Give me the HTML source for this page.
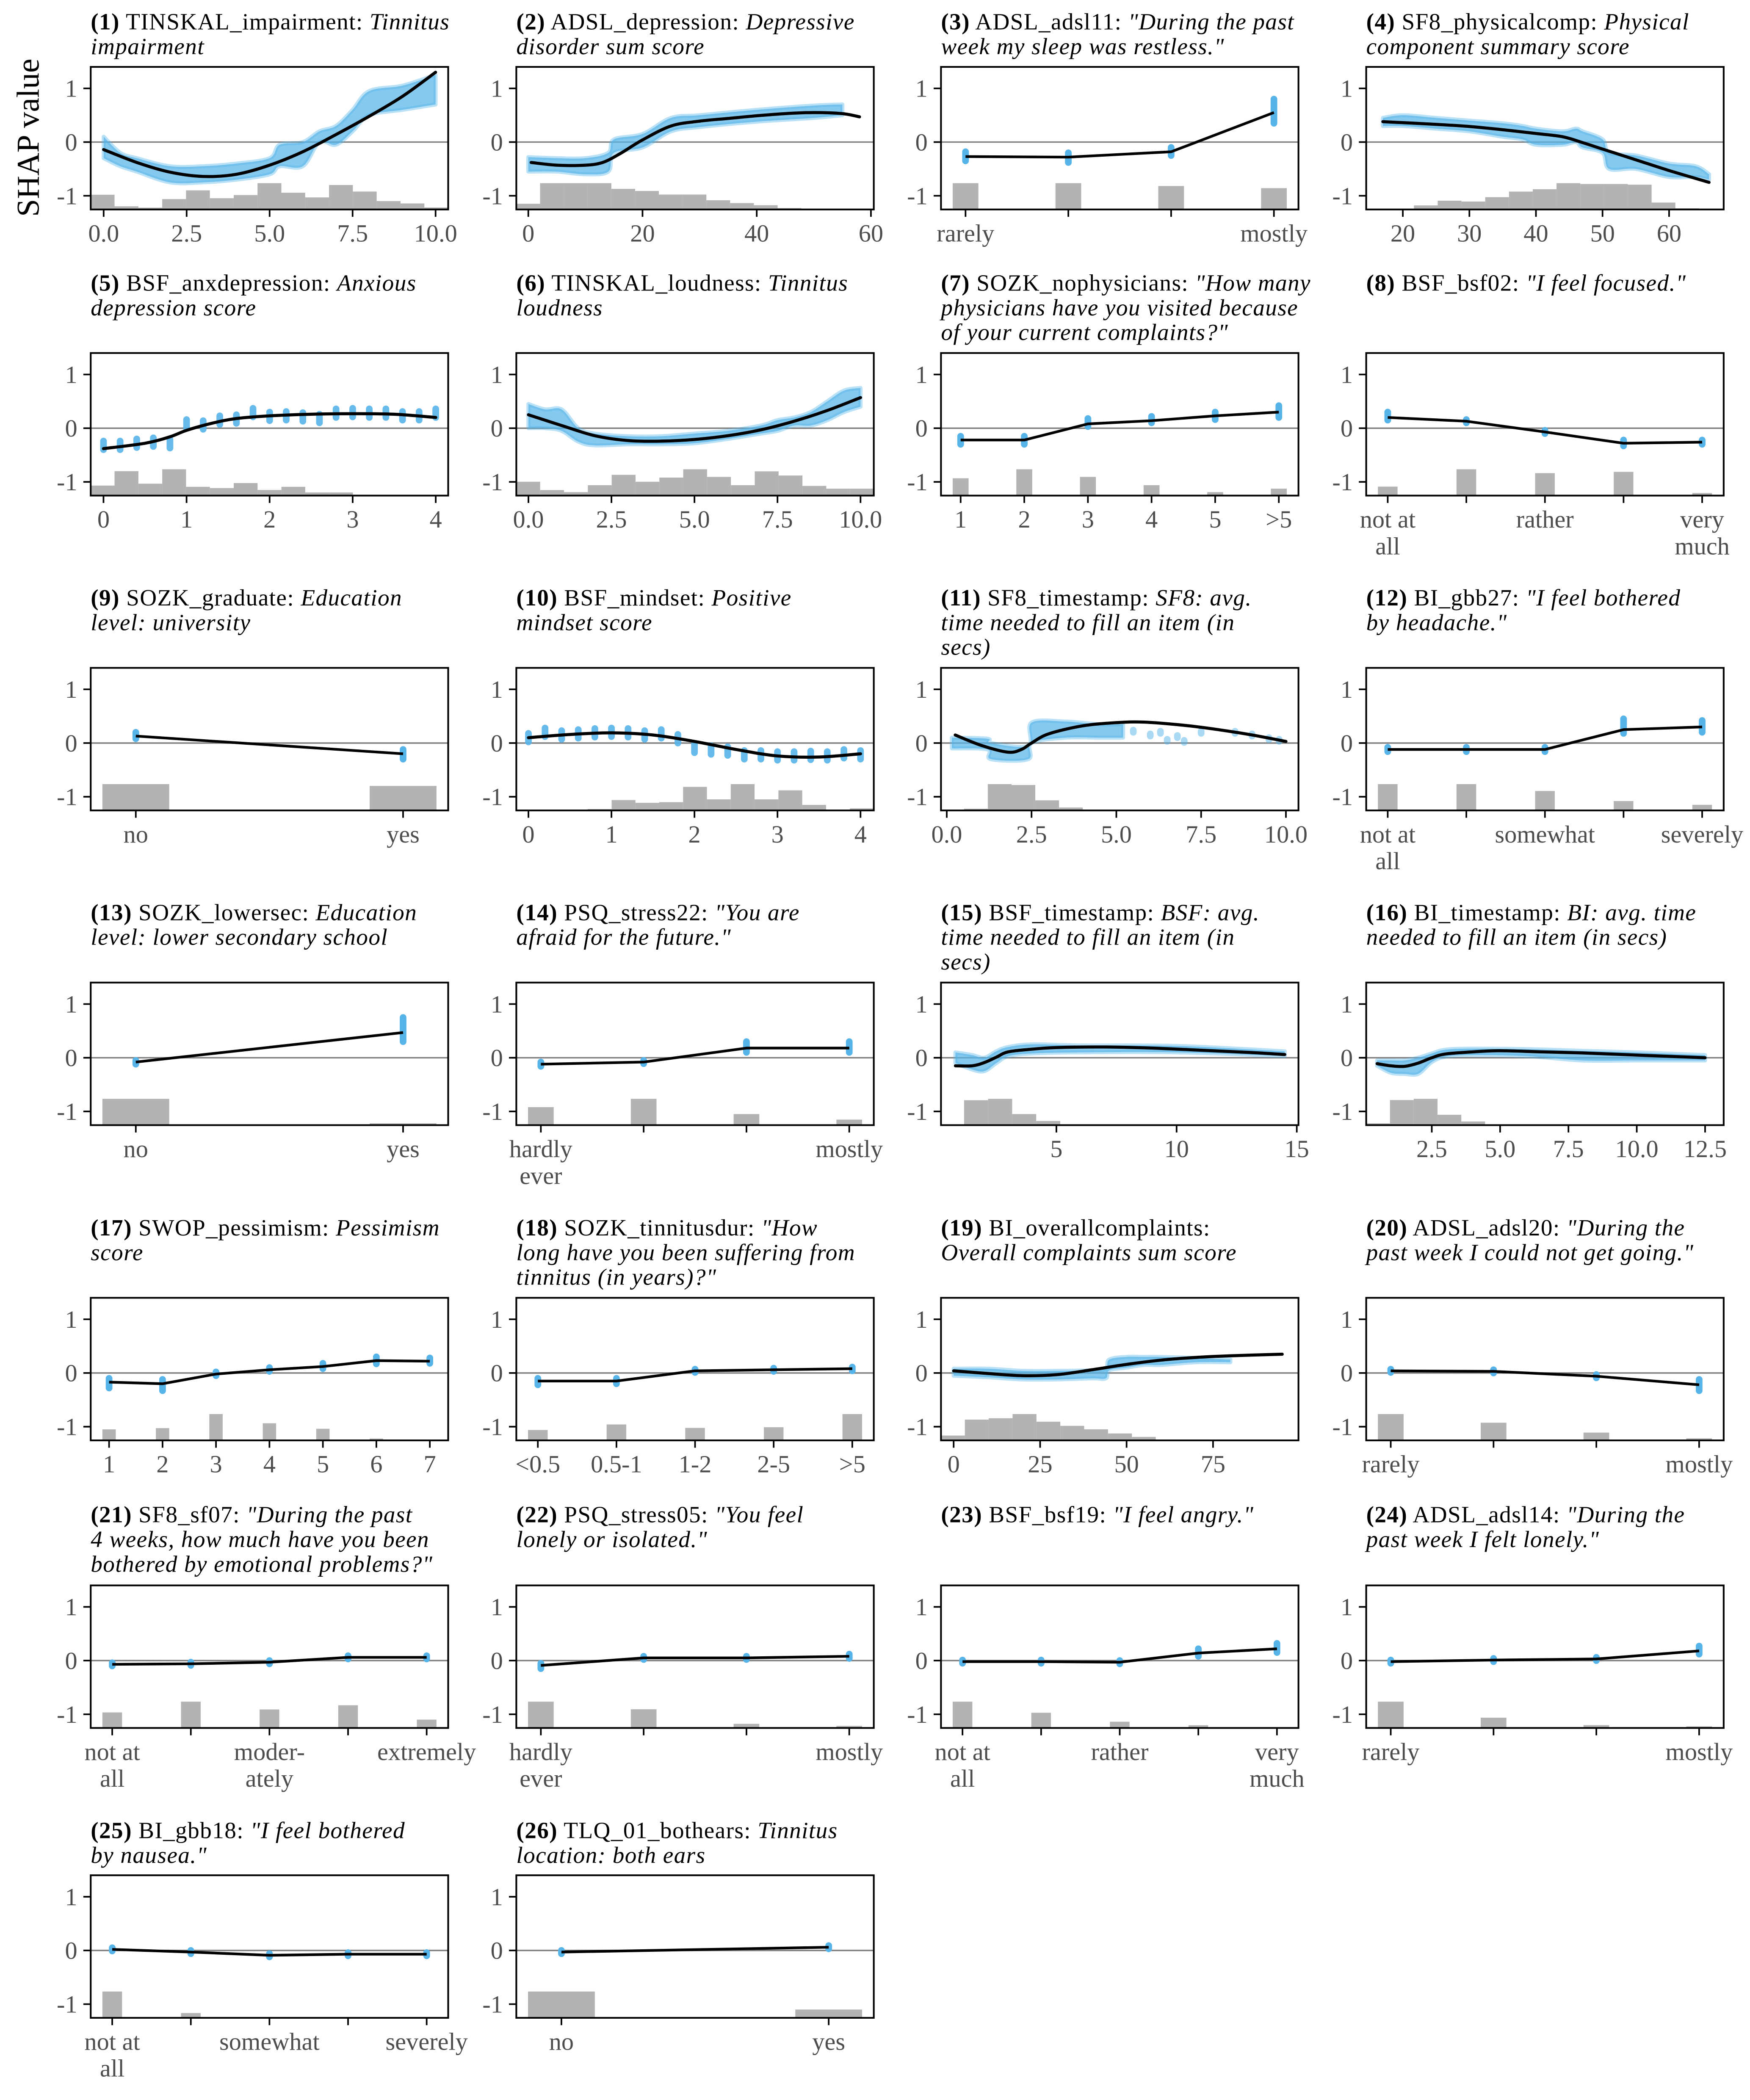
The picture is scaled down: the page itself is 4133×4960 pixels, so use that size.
<!DOCTYPE html>
<html><head><meta charset="utf-8"><title>SHAP dependence plots</title>
<style>
html,body{margin:0;padding:0;background:#fff;}
svg{display:block;}
text{font-family:"Liberation Serif",serif;}
</style></head>
<body>
<svg id="chart" xmlns="http://www.w3.org/2000/svg" width="4133" height="4960" viewBox="0 0 1310 1572">
<rect x="0" y="0" width="1310" height="1572" fill="#fff"/>
<text x="0" y="0" transform="translate(29,103) rotate(-90)" text-anchor="middle" font-size="24" fill="#000">SHAP value</text>
</svg>
<script>
// ---------- data ----------
const p1_ticks=[0,2.5,5,7.5,10]; const p1_tickLabels=["0.0","2.5","5.0","7.5","10.0"];
const p1_histH=[88,19,11,62,114,67,86,157,100,72,146,107,50,36,12];
const p1_lineX=[0,1,2,3,4,5,6,7,8,9,10]; const p1_lineY=[-0.14,-0.38,-0.56,-0.64,-0.6,-0.43,-0.18,0.14,0.48,0.85,1.3];
const p1_bandX=[0,0.5,1,2,3,4,5,5.3,6,6.5,7,7.5,8,9,10]; const p1_bandLo=[-0.3,-0.45,-0.55,-0.75,-0.75,-0.7,-0.6,-0.45,-0.45,0.0,-0.05,0.2,0.5,0.6,0.7]; const p1_bandHi=[0.1,-0.2,-0.3,-0.45,-0.45,-0.4,-0.3,-0.05,0.0,0.2,0.3,0.6,0.95,1.05,1.25];

const p2_ticks=[0,20,40,60]; const p2_tickLabels=["0","20","40","60"];
const p2_histH=[8,37,37,37,29,26,21,21,13,9,6,2];
const p2_lineX=[0.5,5,10,13,16,20,25,30,35,40,45,50,55,58]; const p2_lineY=[-0.38,-0.43,-0.43,-0.38,-0.22,0.04,0.3,0.39,0.44,0.49,0.53,0.55,0.53,0.47];
const p2_bandX=[0,5,10,14,15,20,25,30,40,50,55]; const p2_bandLo=[-0.55,-0.55,-0.6,-0.55,-0.2,-0.1,0.2,0.28,0.38,0.45,0.5]; const p2_bandHi=[-0.28,-0.3,-0.3,-0.2,0.05,0.15,0.45,0.5,0.6,0.68,0.7];

const p3_labels=["rarely","","","mostly"]; const p3_vals=[-0.27,-0.28,-0.18,0.55]; const p3_lo=[-0.35,-0.38,-0.25,0.35]; const p3_hi=[-0.18,-0.2,-0.1,0.8]; const p3_hist=[37,37,33,30];

const p4_ticks=[20,30,40,50,60]; const p4_tickLabels=["20","30","40","50","60"];
const p4_histH=[4,24,52,47,73,106,120,156,151,151,147,41,7];
const p4_lineX=[17,25,30,35,40,44,47,50,55,60,66]; const p4_lineY=[0.38,0.33,0.29,0.23,0.16,0.1,-0.01,-0.13,-0.33,-0.53,-0.75];
const p4_bandX=[17,20,25,30,35,38,40,44,46,47,50,51,55,60,64,66]; const p4_bandLo=[0.3,0.3,0.25,0.2,0.1,0.05,-0.05,-0.05,0.0,-0.1,-0.2,-0.5,-0.5,-0.65,-0.65,-0.7]; const p4_bandHi=[0.45,0.5,0.45,0.4,0.35,0.3,0.25,0.2,0.25,0.2,0.05,-0.2,-0.25,-0.4,-0.45,-0.6];

const p5_ticks=[0,1,2,3,4]; const p5_tickLabels=["0","1","2","3","4"];
const p5_histH=[16,39,19,42,14,12,20,9,14,5,5,1];
const p5_lineX=[0,0.5,0.8,1,1.3,1.6,2,2.5,3,3.5,4]; const p5_lineY=[-0.38,-0.28,-0.16,-0.04,0.09,0.18,0.23,0.26,0.27,0.26,0.2];
const p5_ptX=[0,0.2,0.4,0.6,0.8,1,1.2,1.4,1.6,1.8,2,2.2,2.4,2.6,2.8,3,3.2,3.4,3.6,3.8,4];
const p5_ptY=[-0.32,-0.32,-0.28,-0.26,-0.29,0.08,0.06,0.15,0.17,0.29,0.22,0.23,0.21,0.18,0.28,0.29,0.28,0.28,0.23,0.23,0.28];

const p6_ticks=[0,2.5,5,7.5,10]; const p6_tickLabels=["0.0","2.5","5.0","7.5","10.0"];
const p6_histH=[20,8,5,15,30,20,26,38,27,15,35,29,14,10,10];
const p6_lineX=[0,1,2,3,4,5,6,7,8,9,10]; const p6_lineY=[0.25,0.05,-0.14,-0.23,-0.24,-0.21,-0.14,-0.03,0.13,0.33,0.57];
const p6_bandX=[0,0.5,1,1.5,2,3,4,5,6,7,7.5,8,8.5,9,9.5,10]; const p6_bandLo=[0.0,0.0,-0.05,-0.25,-0.32,-0.3,-0.3,-0.28,-0.2,-0.1,-0.05,0.05,0.05,0.15,0.3,0.4]; const p6_bandHi=[0.45,0.35,0.35,0.0,-0.1,-0.15,-0.15,-0.1,-0.05,0.05,0.15,0.2,0.3,0.5,0.7,0.75];

const p7_labels=["1","2","3","4","5",">5"]; const p7_vals=[-0.22,-0.22,0.08,0.14,0.23,0.3]; const p7_lo=[-0.3,-0.3,0.03,0.1,0.16,0.2]; const p7_hi=[-0.15,-0.15,0.18,0.22,0.3,0.42]; const p7_hist=[25,38,27,15,5,10];
const p8_labels=["not at|all","","rather","","very|much"]; const p8_vals=[0.2,0.13,-0.07,-0.28,-0.26]; const p8_lo=[0.15,0.1,-0.09,-0.33,-0.3]; const p8_hi=[0.3,0.16,-0.04,-0.22,-0.22]; const p8_hist=[14,41,35,37,4];
const p9_labels=["no","yes"]; const p9_vals=[0.13,-0.2]; const p9_lo=[0.08,-0.3]; const p9_hi=[0.2,-0.12]; const p9_hist=[44,41];

const p10_ticks=[0,1,2,3,4]; const p10_tickLabels=["0","1","2","3","4"];
const p10_histH=[0,0,1,2,15,11,12,34,16,38,16,29,8,0,3];
const p10_lineX=[0,0.5,1,1.5,2,2.5,3,3.5,4]; const p10_lineY=[0.1,0.16,0.19,0.15,0.03,-0.12,-0.24,-0.26,-0.2];
const p10_ptX=[0,0.2,0.4,0.6,0.8,1,1.2,1.4,1.6,1.8,2,2.2,2.4,2.6,2.8,3,3.2,3.4,3.6,3.8,4];
const p10_ptY=[0.1,0.2,0.15,0.17,0.19,0.2,0.19,0.15,0.17,0.08,-0.1,-0.13,-0.15,-0.22,-0.22,-0.24,-0.24,-0.23,-0.24,-0.2,-0.22];

const p11_ticks=[0,2.5,5,7.5,10]; const p11_tickLabels=["0.0","2.5","5.0","7.5","10.0"];
const p11_histH=[12,180,174,69,20,3];
const p11_lineX=[0.25,1,1.8,2.2,2.5,3,4,5,5.8,7,8,9,10]; const p11_lineY=[0.15,-0.04,-0.17,-0.12,0,0.17,0.32,0.38,0.39,0.33,0.25,0.15,0.03];
const p11_bandX=[0.15,1.2,1.3,2.4,2.5,3.5,4.5,5.2]; const p11_bandLo=[-0.1,-0.12,-0.3,-0.3,0.0,0.1,0.1,0.1]; const p11_bandHi=[0.1,0.08,0.0,-0.05,0.38,0.4,0.35,0.35];
const p11_ptX=[5.5,6,6.3,6.5,6.8,7,7.5,8.5,9,9.5,9.8]; const p11_ptY=[0.22,0.15,0.2,0.05,0.12,0.03,0.2,0.2,0.15,0.08,0.05];

const p12_labels=["not at|all","","somewhat","","severely"]; const p12_vals=[-0.12,-0.12,-0.12,0.25,0.3]; const p12_lo=[-0.16,-0.16,-0.16,0.18,0.2]; const p12_hi=[-0.08,-0.08,-0.08,0.45,0.42]; const p12_hist=[42,42,31,15,9];
const p13_labels=["no","yes"]; const p13_vals=[-0.08,0.47]; const p13_lo=[-0.12,0.3]; const p13_hi=[-0.05,0.75]; const p13_hist=[43,3];
const p14_labels=["hardly|ever","","","mostly"]; const p14_vals=[-0.12,-0.08,0.18,0.18]; const p14_lo=[-0.16,-0.1,0.1,0.1]; const p14_hi=[-0.08,-0.06,0.3,0.3]; const p14_hist=[26,38,16,8];

const p15_ticks=[5,10,15]; const p15_tickLabels=["5","10","15"];
const p15_histH=[36,38,16,6,1];
const p15_lineX=[0.8,1.5,2,2.5,3,4,5,7,9,11,13,14.5]; const p15_lineY=[-0.15,-0.15,-0.09,0.01,0.11,0.16,0.19,0.2,0.18,0.14,0.1,0.06];
const p15_bandX=[0.8,1.5,2,2.5,3,4,6,10,14.5]; const p15_bandLo=[-0.1,-0.22,-0.25,-0.1,0.03,0.08,0.1,0.1,0.03]; const p15_bandHi=[0.1,0.05,0.0,0.12,0.2,0.25,0.23,0.22,0.12];

const p16_ticks=[2.5,5,7.5,10,12.5]; const p16_tickLabels=["2.5","5.0","7.5","10.0","12.5"];
const p16_histH=[3,41,43,17,6];
const p16_lineX=[0.5,1,1.5,2,2.5,3,4,5,6.5,8,10,12.5]; const p16_lineY=[-0.11,-0.15,-0.16,-0.1,0,0.07,0.11,0.13,0.11,0.09,0.05,0];
const p16_bandX=[0.5,1,1.5,2,2.5,3,4,6,8,10,12.5]; const p16_bandLo=[-0.15,-0.28,-0.3,-0.3,-0.08,0.02,0.05,0.03,-0.05,-0.05,-0.05]; const p16_bandHi=[-0.05,-0.05,-0.05,0.0,0.08,0.15,0.17,0.16,0.13,0.1,0.05];

const p17_labels=["1","2","3","4","5","6","7"]; const p17_vals=[-0.17,-0.2,-0.02,0.06,0.12,0.23,0.22]; const p17_lo=[-0.28,-0.33,-0.05,0.03,0.08,0.17,0.18]; const p17_hi=[-0.1,-0.12,0.02,0.1,0.18,0.3,0.28]; const p17_hist=[18,20,43,28,19,3,0];
const p18_labels=["<0.5","0.5-1","1-2","2-5",">5"]; const p18_vals=[-0.15,-0.15,0.04,0.06,0.08]; const p18_lo=[-0.22,-0.2,0.01,0.03,0.04]; const p18_hi=[-0.1,-0.1,0.07,0.09,0.11]; const p18_hist=[15,23,18,19,38];

const p19_ticks=[0,25,50,75]; const p19_tickLabels=["0","25","50","75"];
const p19_histH=[7,30,32,38,27,21,16,10,5];
const p19_lineX=[0,10,20,30,40,50,60,70,80,95]; const p19_lineY=[0.04,-0.01,-0.05,-0.03,0.06,0.16,0.24,0.29,0.32,0.35];
const p19_bandX=[0,10,20,30,40,44,45,50,55,60,70,80]; const p19_bandLo=[-0.05,-0.08,-0.12,-0.12,-0.1,-0.1,0.05,0.1,0.15,0.15,0.2,0.2]; const p19_bandHi=[0.08,0.08,0.04,0.04,0.05,0.08,0.25,0.3,0.3,0.3,0.28,0.25];

const p20_labels=["rarely","","","mostly"]; const p20_vals=[0.04,0.03,-0.06,-0.22]; const p20_lo=[0.02,0.01,-0.09,-0.33]; const p20_hi=[0.07,0.05,-0.03,-0.12]; const p20_hist=[64,43,19,5];
const p21_labels=["not at|all","","moder-|ately","","extremely"]; const p21_vals=[-0.07,-0.06,-0.03,0.06,0.06]; const p21_lo=[-0.1,-0.09,-0.05,0.04,0.04]; const p21_hi=[-0.04,-0.03,-0.01,0.08,0.08]; const p21_hist=[26,44,31,38,14];
const p22_labels=["hardly|ever","","","mostly"]; const p22_vals=[-0.09,0.05,0.05,0.08]; const p22_lo=[-0.15,0.03,0.03,0.04]; const p22_hi=[-0.05,0.07,0.07,0.12]; const p22_hist=[38,27,6,3];
const p23_labels=["not at|all","","rather","","very|much"]; const p23_vals=[-0.02,-0.02,-0.03,0.14,0.22]; const p23_lo=[-0.04,-0.04,-0.05,0.08,0.15]; const p23_hi=[0,0,-0.01,0.22,0.32]; const p23_hist=[38,22,9,4,0];
const p24_labels=["rarely","","","mostly"]; const p24_vals=[-0.02,0.01,0.03,0.18]; const p24_lo=[-0.05,-0.01,0.0,0.12]; const p24_hi=[0.0,0.03,0.05,0.27]; const p24_hist=[64,25,7,4];
const p25_labels=["not at|all","","somewhat","","severely"]; const p25_vals=[0.02,-0.03,-0.09,-0.07,-0.07]; const p25_lo=[-0.01,-0.06,-0.12,-0.1,-0.1]; const p25_hi=[0.05,0.0,-0.06,-0.04,-0.04]; const p25_hist=[44,8,1,0,0];
const p26_labels=["no","yes"]; const p26_vals=[-0.03,0.06]; const p26_lo=[-0.05,0.03]; const p26_hi=[-0.01,0.09]; const p26_hist=[38,12];

const titles=[
 [[["b","(1)"],["n"," TINSKAL_impairment: "],["i","Tinnitus"]],[["i","impairment"]]],
 [[["b","(2)"],["n"," ADSL_depression: "],["i","Depressive"]],[["i","disorder sum score"]]],
 [[["b","(3)"],["n"," ADSL_adsl11: "],["i","\"During the past"]],[["i","week my sleep was restless.\""]]],
 [[["b","(4)"],["n"," SF8_physicalcomp: "],["i","Physical"]],[["i","component summary score"]]],
 [[["b","(5)"],["n"," BSF_anxdepression: "],["i","Anxious"]],[["i","depression score"]]],
 [[["b","(6)"],["n"," TINSKAL_loudness: "],["i","Tinnitus"]],[["i","loudness"]]],
 [[["b","(7)"],["n"," SOZK_nophysicians: "],["i","\"How many"]],[["i","physicians have you visited because"]],[["i","of your current complaints?\""]]],
 [[["b","(8)"],["n"," BSF_bsf02: "],["i","\"I feel focused.\""]]],
 [[["b","(9)"],["n"," SOZK_graduate: "],["i","Education"]],[["i","level: university"]]],
 [[["b","(10)"],["n"," BSF_mindset: "],["i","Positive"]],[["i","mindset score"]]],
 [[["b","(11)"],["n"," SF8_timestamp: "],["i","SF8: avg."]],[["i","time needed to fill an item (in"]],[["i","secs)"]]],
 [[["b","(12)"],["n"," BI_gbb27: "],["i","\"I feel bothered"]],[["i","by headache.\""]]],
 [[["b","(13)"],["n"," SOZK_lowersec: "],["i","Education"]],[["i","level: lower secondary school"]]],
 [[["b","(14)"],["n"," PSQ_stress22: "],["i","\"You are"]],[["i","afraid for the future.\""]]],
 [[["b","(15)"],["n"," BSF_timestamp: "],["i","BSF: avg."]],[["i","time needed to fill an item (in"]],[["i","secs)"]]],
 [[["b","(16)"],["n"," BI_timestamp: "],["i","BI: avg. time"]],[["i","needed to fill an item (in secs)"]]],
 [[["b","(17)"],["n"," SWOP_pessimism: "],["i","Pessimism"]],[["i","score"]]],
 [[["b","(18)"],["n"," SOZK_tinnitusdur: "],["i","\"How"]],[["i","long have you been suffering from"]],[["i","tinnitus (in years)?\""]]],
 [[["b","(19)"],["n"," BI_overallcomplaints:"]],[["i","Overall complaints sum score"]]],
 [[["b","(20)"],["n"," ADSL_adsl20: "],["i","\"During the"]],[["i","past week I could not get going.\""]]],
 [[["b","(21)"],["n"," SF8_sf07: "],["i","\"During the past"]],[["i","4 weeks, how much have you been"]],[["i","bothered by emotional problems?\""]]],
 [[["b","(22)"],["n"," PSQ_stress05: "],["i","\"You feel"]],[["i","lonely or isolated.\""]]],
 [[["b","(23)"],["n"," BSF_bsf19: "],["i","\"I feel angry.\""]]],
 [[["b","(24)"],["n"," ADSL_adsl14: "],["i","\"During the"]],[["i","past week I felt lonely.\""]]],
 [[["b","(25)"],["n"," BI_gbb18: "],["i","\"I feel bothered"]],[["i","by nausea.\""]]],
 [[["b","(26)"],["n"," TLQ_01_bothears: "],["i","Tinnitus"]],[["i","location: both ears"]]]
];

// ---------- layout (not data) ----------
const COLS=[67.9,386.5,704.4,1022.7], W=267.6, U=40.2;
const ZEROS=[106.3,320.5,556.2,791.8,1027.8,1243.1,1460.1];
const TOFF=[84.3,103,103,103,103,103.5,84];
const BLUE="#56B4E9";

const panels=[
 {t:"c",dom:[-0.39,10.38],ticks:p1_ticks,tl:p1_tickLabels,hs:-0.39,hw:0.718,hh:p1_histH,lx:p1_lineX,ly:p1_lineY,bx:p1_bandX,blo:p1_bandLo,bhi:p1_bandHi},
 {t:"c",dom:[-2.1,60.5],ticks:p2_ticks,tl:p2_tickLabels,hs:-2.1,hw:4.16,hh:p2_histH,lx:p2_lineX,ly:p2_lineY,bx:p2_bandX,blo:p2_bandLo,bhi:p2_bandHi},
 {t:"k",labels:p3_labels,vals:p3_vals,lo:p3_lo,hi:p3_hi,hist:p3_hist},
 {t:"c",dom:[14.5,68.2],ticks:p4_ticks,tl:p4_tickLabels,hs:18.1,hw:3.57,hh:p4_histH,lx:p4_lineX,ly:p4_lineY,bx:p4_bandX,blo:p4_bandLo,bhi:p4_bandHi},
 {t:"c",dom:[-0.154,4.15],ticks:p5_ticks,tl:p5_tickLabels,hs:-0.154,hw:0.287,hh:p5_histH,lx:p5_lineX,ly:p5_lineY,px:p5_ptX,py:p5_ptY,pr:0.08},
 {t:"c",dom:[-0.365,10.4],ticks:p6_ticks,tl:p6_tickLabels,hs:-0.365,hw:0.718,hh:p6_histH,lx:p6_lineX,ly:p6_lineY,bx:p6_bandX,blo:p6_bandLo,bhi:p6_bandHi},
 {t:"k",labels:p7_labels,vals:p7_vals,lo:p7_lo,hi:p7_hi,hist:p7_hist},
 {t:"k",labels:p8_labels,vals:p8_vals,lo:p8_lo,hi:p8_hi,hist:p8_hist},
 {t:"k",labels:p9_labels,vals:p9_vals,lo:p9_lo,hi:p9_hi,hist:p9_hist},
 {t:"c",dom:[-0.146,4.16],ticks:p10_ticks,tl:p10_tickLabels,hs:-0.146,hw:0.287,hh:p10_histH,lx:p10_lineX,ly:p10_lineY,px:p10_ptX,py:p10_ptY,pr:0.08},
 {t:"c",dom:[-0.17,10.37],ticks:p11_ticks,tl:p11_tickLabels,hs:0.51,hw:0.70,hh:p11_histH,lx:p11_lineX,ly:p11_lineY,bx:p11_bandX,blo:p11_bandLo,bhi:p11_bandHi,px:p11_ptX,py:p11_ptY,pr:0.02},
 {t:"k",labels:p12_labels,vals:p12_vals,lo:p12_lo,hi:p12_hi,hist:p12_hist},
 {t:"k",labels:p13_labels,vals:p13_vals,lo:p13_lo,hi:p13_hi,hist:p13_hist},
 {t:"k",labels:p14_labels,vals:p14_vals,lo:p14_lo,hi:p14_hi,hist:p14_hist},
 {t:"c",dom:[0.2,15.07],ticks:p15_ticks,tl:p15_tickLabels,hs:1.16,hw:1.0,hh:p15_histH,lx:p15_lineX,ly:p15_lineY,bx:p15_bandX,blo:p15_bandLo,bhi:p15_bandHi},
 {t:"c",dom:[0.1,13.18],ticks:p16_ticks,tl:p16_tickLabels,hs:0.1,hw:0.87,hh:p16_histH,lx:p16_lineX,ly:p16_lineY,bx:p16_bandX,blo:p16_bandLo,bhi:p16_bandHi},
 {t:"k",labels:p17_labels,vals:p17_vals,lo:p17_lo,hi:p17_hi,hist:p17_hist},
 {t:"k",labels:p18_labels,vals:p18_vals,lo:p18_lo,hi:p18_hi,hist:p18_hist},
 {t:"c",dom:[-3.66,99.7],ticks:p19_ticks,tl:p19_tickLabels,hs:-3.66,hw:6.9,hh:p19_histH,lx:p19_lineX,ly:p19_lineY,bx:p19_bandX,blo:p19_bandLo,bhi:p19_bandHi},
 {t:"k",labels:p20_labels,vals:p20_vals,lo:p20_lo,hi:p20_hi,hist:p20_hist},
 {t:"k",labels:p21_labels,vals:p21_vals,lo:p21_lo,hi:p21_hi,hist:p21_hist},
 {t:"k",labels:p22_labels,vals:p22_vals,lo:p22_lo,hi:p22_hi,hist:p22_hist},
 {t:"k",labels:p23_labels,vals:p23_vals,lo:p23_lo,hi:p23_hi,hist:p23_hist},
 {t:"k",labels:p24_labels,vals:p24_vals,lo:p24_lo,hi:p24_hi,hist:p24_hist},
 {t:"k",labels:p25_labels,vals:p25_vals,lo:p25_lo,hi:p25_hi,hist:p25_hist},
 {t:"k",labels:p26_labels,vals:p26_vals,lo:p26_lo,hi:p26_hi,hist:p26_hist}
];

const NS="http://www.w3.org/2000/svg";
const svg=document.getElementById("chart");
function mk(parent,tag,attrs){const el=document.createElementNS(NS,tag);for(const k in attrs)el.setAttribute(k,attrs[k]);parent.appendChild(el);return el;}
// Catmull-Rom smoothing of a point list into cubic segments (continues an existing path)
function smooth(pts,start){
  let d=start?("M"+pts[0][0].toFixed(2)+","+pts[0][1].toFixed(2)):(" L"+pts[0][0].toFixed(2)+","+pts[0][1].toFixed(2));
  for(let i=0;i<pts.length-1;i++){
    const p0=pts[Math.max(0,i-1)],p1=pts[i],p2=pts[i+1],p3=pts[Math.min(pts.length-1,i+2)];
    const c1x=p1[0]+(p2[0]-p0[0])/6,c1y=p1[1]+(p2[1]-p0[1])/6;
    const c2x=p2[0]-(p3[0]-p1[0])/6,c2y=p2[1]-(p3[1]-p1[1])/6;
    d+=" C"+c1x.toFixed(2)+","+c1y.toFixed(2)+" "+c2x.toFixed(2)+","+c2y.toFixed(2)+" "+p2[0].toFixed(2)+","+p2[1].toFixed(2);
  }
  return d;
}

panels.forEach(function(p,i){
  const n=i+1,row=Math.floor(i/4),col=i%4;
  const L=COLS[col],Z=ZEROS[row],top=Z-1.4*U,bot=Z+1.255*U;
  const g=mk(svg,"g",{});
  
  
  let lo,hi,k=0;
  if(p.t==="c"){lo=p.dom[0];hi=p.dom[1];}
  else{k=p.vals.length;const m=0.125+0.035*(k-1+0.25);lo=1-m;hi=k+m;}
  const X=function(d){return L+(d-lo)/(hi-lo)*W;};
  const Y=function(v){return Z-v*U;};
  // title
  titles[i].forEach(function(line,li){
    const t=mk(g,"text",{x:L,y:Z-TOFF[row]+li*18.5,"font-size":"17.5","letter-spacing":"0.45",fill:"#000"});
    
    
    line.forEach(function(seg){
      const s=mk(t,"tspan",{});
      if(seg[0]==="b")s.setAttribute("font-weight","bold");
      if(seg[0]==="i")s.setAttribute("font-style","italic");
      s.textContent=seg[1];
    });
  });
  // histogram
  if(p.t==="c"){
    const mx=Math.max.apply(null,p.hh);
    p.hh.forEach(function(h,j){
      if(h<=0)return;
      const x0=X(p.hs+j*p.hw),x1=Math.min(X(p.hs+(j+1)*p.hw),L+W),hp=h/mx*0.49*U;
      const r=mk(g,"rect",{x:x0,y:bot-hp,width:x1-x0,height:hp,fill:"#b3b3b3"});
      
      
    });
  }else{
    const mx=Math.max.apply(null,p.hist);
    p.hist.forEach(function(h,j){
      if(h<=0)return;
      const x0=X(j+1-0.125),x1=X(j+1+0.125),hp=h/mx*0.49*U;
      const r=mk(g,"rect",{x:x0,y:bot-hp,width:x1-x0,height:hp,fill:"#b3b3b3"});
      
      
    });
  }
  // zero line
  const zl=mk(g,"line",{x1:L,x2:L+W,y1:Z,y2:Z,stroke:"#808080","stroke-width":"1.1"});
  
  
  // scatter
  if(p.t==="c"){
    if(p.bx){
      const up=p.bx.map(function(x,j){return [X(x),Y(p.bhi[j])];});
      const dn=p.bx.map(function(x,j){return [X(x),Y(p.blo[j])];}).reverse();
      const d=smooth(up,true)+smooth(dn,false)+" Z";
      const b=mk(g,"path",{d:d,fill:BLUE,"fill-opacity":"0.72",stroke:BLUE,"stroke-opacity":"0.4","stroke-width":"3","stroke-linejoin":"round"});
      
      
    }
    if(p.px){
      p.px.forEach(function(x,j){
        const c=mk(g,"line",{x1:X(x),x2:X(x),y1:Y(p.py[j]+p.pr),y2:Y(p.py[j]-p.pr),stroke:BLUE,"stroke-width":"5","stroke-linecap":"round","stroke-opacity":p.pr<0.05?"0.5":"0.9"});
        
        
      });
    }
    const pts=p.lx.map(function(x,j){return [X(x),Y(p.ly[j])];});
    const ln=mk(g,"path",{d:smooth(pts,true),fill:"none",stroke:"#000","stroke-width":"2.3","stroke-linejoin":"round","stroke-linecap":"round"});
    
    
  }else{
    p.vals.forEach(function(v,j){
      const c=mk(g,"line",{x1:X(j+1),x2:X(j+1),y1:Y(Math.max(p.hi[j],v+0.03)),y2:Y(Math.min(p.lo[j],v-0.03)),stroke:BLUE,"stroke-width":"5","stroke-linecap":"round"});
      
      
    });
    const ln=mk(g,"polyline",{points:p.vals.map(function(v,j){return X(j+1).toFixed(2)+","+Y(v).toFixed(2);}).join(" "),fill:"none",stroke:"#000","stroke-width":"2","stroke-linejoin":"round"});
    
    
  }
  // box
  const bx=mk(g,"rect",{x:L,y:top,width:W,height:bot-top,fill:"none",stroke:"#000","stroke-width":"1.3"});
  
  
  // y ticks
  [1,0,-1].forEach(function(v){
    const tk=mk(g,"line",{x1:L-5.5,x2:L,y1:Y(v),y2:Y(v),stroke:"#000","stroke-width":"1.2"});
    
    
    const tx=mk(g,"text",{x:L-10,y:Y(v)+6.3,"text-anchor":"end","font-size":"18.5",fill:"#4d4d4d"});
    
    
    tx.textContent=String(v);
  });
  // x ticks
  const xt=p.t==="c"?p.ticks:p.vals.map(function(v,j){return j+1;});
  const xl=p.t==="c"?p.tl:p.labels;
  xt.forEach(function(d,j){
    const tk=mk(g,"line",{x1:X(d),x2:X(d),y1:bot,y2:bot+5.5,stroke:"#000","stroke-width":"1.2"});
    
    
    if(!xl[j])return;
    xl[j].split("|").forEach(function(s,li){
      const tx=mk(g,"text",{x:X(d),y:bot+24+li*20,"text-anchor":"middle","font-size":"18.5",fill:"#4d4d4d"});
      
      
      tx.textContent=s;
    });
  });
});
</script>
</body></html>
